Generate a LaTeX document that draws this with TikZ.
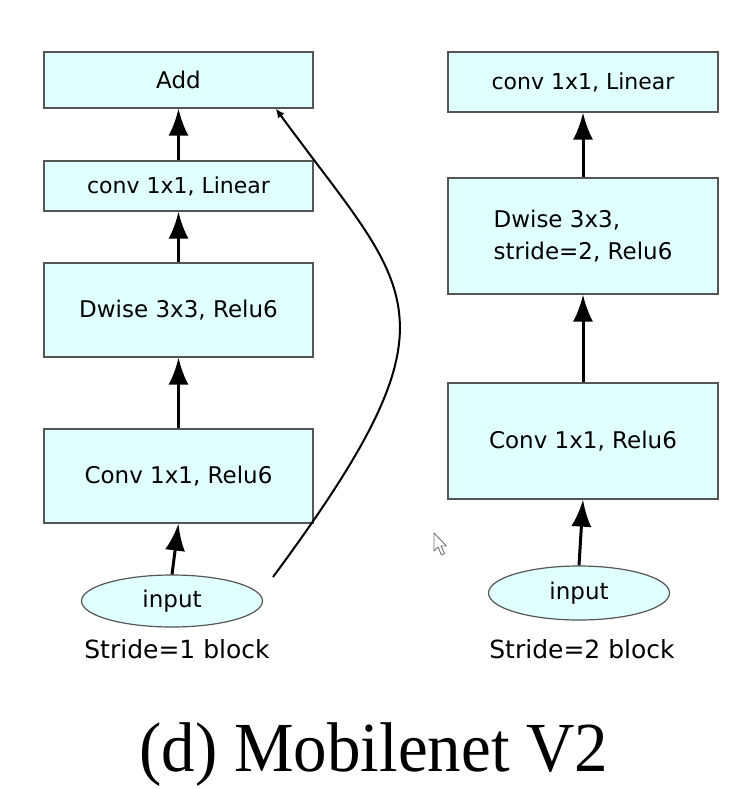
\documentclass[tikz,border=0pt]{standalone}
\usepackage{fontspec}
\setmainfont{DejaVu Sans}
\newfontfamily\titlefont{Liberation Serif}
\usetikzlibrary{arrows.meta,shapes.geometric,calc}
\definecolor{boxfill}{HTML}{E0FFFF}
\definecolor{boxline}{HTML}{555555}
\tikzset{
  layerbox/.style={draw=boxline, line width=1.2pt, fill=boxfill, rectangle,
    inner sep=0pt, font=\fontsize{23}{32}\selectfont},
  linearbox/.style={layerbox, font=\fontsize{22}{32}\selectfont},
  inputnode/.style={draw=boxline, line width=1.2pt, fill=boxfill, ellipse,
    inner sep=0pt, minimum width=181pt, font=\fontsize{23}{32}\selectfont},
  caption/.style={inner sep=0pt, font=\fontsize{25}{32}\selectfont},
  flow/.style={line width=3pt, -{Latex[length=27pt,width=20pt]}},
  skip/.style={line width=2pt, -{Latex[length=9pt,width=8pt]}}
}
\begin{document}
\begin{tikzpicture}[x=1pt,y=-1pt]
\useasboundingbox (0,0) rectangle (753,789);

% stride 1 block
\node[layerbox, minimum width=269pt, minimum height=56pt] (add) at (178.5,80) {Add};
\node[linearbox, minimum width=269pt, minimum height=50pt] (lin1) at (178.5,186) {conv 1x1, Linear};
\node[layerbox, minimum width=269pt, minimum height=94pt] (dw1) at (178.5,310) {Dwise 3x3, Relu6};
\node[layerbox, minimum width=269pt, minimum height=94pt] (ex1) at (178.5,476) {Conv 1x1, Relu6};
\node[inputnode, minimum height=52pt] (in1) at (172,601) {input};
\node[caption] (cap1) at (177,649) {Stride=1 block};

\draw[flow] (in1.north) -- (ex1.south);
\draw[flow] (ex1.north) -- (dw1.south);
\draw[flow] (dw1.north) -- (lin1.south);
\draw[flow] (lin1.north) -- (add.south);

% shortcut connection
\coordinate (skipstart) at (273,577);
\coordinate (skipend) at ($(add.south west)!0.86!(add.south east)$);
\draw[skip] (skipstart) .. controls (469,312) and (411,294) .. (skipend);

% stride 2 block
\node[linearbox, minimum width=270pt, minimum height=60pt] (lin2) at (583,82) {conv 1x1, Linear};
\node[layerbox, minimum width=270pt, minimum height=116pt, align=left] (dw2) at (583,236) {Dwise 3x3,\\stride=2, Relu6};
\node[layerbox, minimum width=270pt, minimum height=116pt] (ex2) at (583,441) {Conv 1x1, Relu6};
\node[inputnode, minimum height=54pt] (in2) at (579,593) {input};
\node[caption] (cap2) at (582,649) {Stride=2 block};

\draw[flow] (in2.north) -- (ex2.south);
\draw[flow] (ex2.north) -- (dw2.south);
\draw[flow] (dw2.north) -- (lin2.south);

% mouse pointer
\draw[black!55, fill=white, line width=0.9pt, line join=round]
  (434,533) -- (434,551) -- (438,547) -- (441.5,555) -- (444.5,553.5) -- (441,546) -- (446.5,546) -- cycle;

% caption
\node[inner sep=0pt, anchor=base] (title) at (374,771)
  {\titlefont\fontsize{67}{70}\selectfont\scalebox{1}[1.05]{(d) Mobilenet V2}};
\end{tikzpicture}
\end{document}
